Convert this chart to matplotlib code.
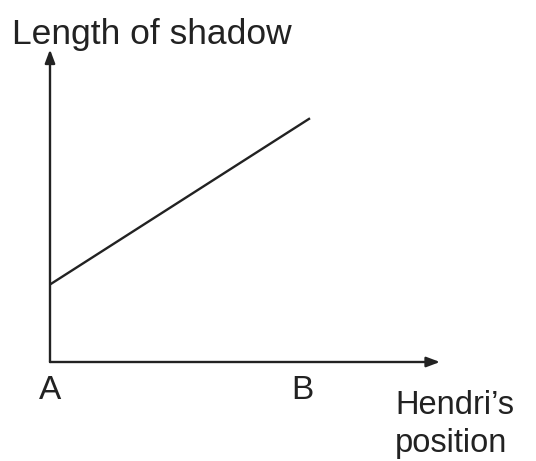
import matplotlib.pyplot as plt

# Shadow length vs Hendri's position (sketch, arbitrary units)
position = [0.0, 1.04]
shadow_length = [0.31, 0.975]
point_labels = ["A", "B"]
point_x = [0.0, 1.01]

plt.rcParams['font.family'] = ['Liberation Sans', 'DejaVu Sans']

fig = plt.figure(figsize=(5.36, 4.61), dpi=100)
ax = fig.add_axes([0, 0, 1, 1])
ax.set_xlim(-0.2, 1.944)
ax.set_ylim(-0.396, 1.448)
ax.axis('off')

ink = '#222222'

# axes with arrow heads
arrow = dict(arrowstyle='-|>,head_length=0.8,head_width=0.3', color=ink, lw=1.7,
             shrinkA=0, shrinkB=0)
ax.annotate('', xy=(0, 1.25), xytext=(0, 0), arrowprops=arrow)
ax.annotate('', xy=(1.56, 0), xytext=(0, 0), arrowprops=arrow)

# the graph line
ax.plot(position, shadow_length, color=ink, lw=1.7, solid_capstyle='butt')

# labels
for lbl, x in zip(point_labels, point_x):
    ax.text(x, -0.115, lbl, ha='center', va='center', fontsize=24, color=ink)

ax.text(-0.15, 1.31, "Length of shadow", ha='left', va='center', fontsize=25.5, color=ink)
ax.text(1.38, -0.25, "Hendri\u2019s\nposition", ha='left', va='center', fontsize=23.5,
        color=ink, linespacing=1.3)

fig.savefig('out.png', dpi=100)
